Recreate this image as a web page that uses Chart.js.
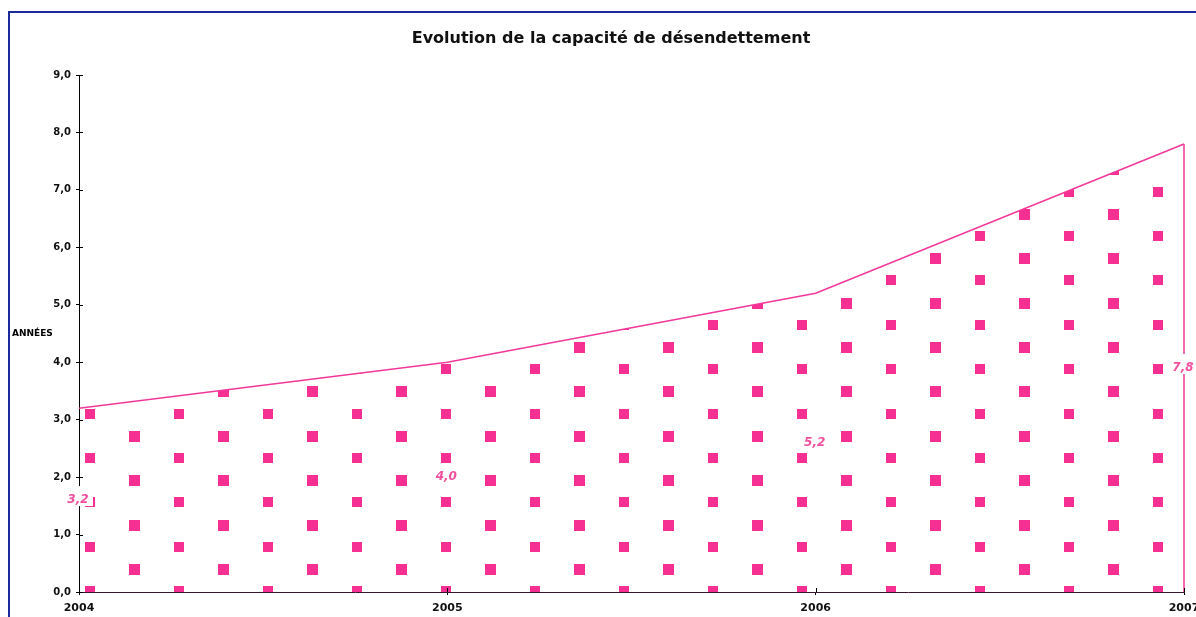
<!DOCTYPE html>
<html lang="fr">
<head>
<meta charset="utf-8">
<title>Evolution de la capacité de désendettement</title>
<script src="https://cdn.jsdelivr.net/npm/chart.js@4.4.1/dist/chart.umd.min.js"></script>
<style>
  html, body { margin: 0; padding: 0; background: #fff; overflow: hidden; width: 1196px; height: 617px; }
  #cadre { position: absolute; left: 8px; top: 11px; width: 1300px; height: 700px; border: 2px solid #1b2a9b; }
  #graphique { position: absolute; left: 0; top: 0; }
</style>
</head>
<body>
<div id="cadre"></div>
<canvas id="graphique" width="1220" height="640"></canvas>
<script>
// Données
const annees   = ['2004', '2005', '2006', '2007'];
const capacite = [3.2, 4.0, 5.2, 7.8];
const yMin = 0, yMax = 9, yPas = 1;
const titre = 'Evolution de la capacité de désendettement';

const ROSE_CARRE = '#F62F92';
const ROSE_LIGNE = '#F2389A';
const ROSE_TEXTE = '#F0509E';
const POLICE = '"DejaVu Sans", Verdana, sans-serif';

// ===================== MOTIF (carrés roses) =====================

function creerMotif(ctx) {
  const w = 89, h = 444;
  const c = document.createElement('canvas');
  c.width = w; c.height = h;
  const g = c.getContext('2d');
  g.fillStyle = ROSE_CARRE;
  const carre = (L, T, cw, ch) => {
    const lx = ((L % w) + w) % w, ty = ((T % h) + h) % h;
    for (const dx of [0, -w]) for (const dy of [0, -h]) g.fillRect(lx + dx, ty + dy, cw, ch);
  };
  for (let k = 0; k < 10; k++) {
    carre(85, 9 + Math.round(44.4 * k), 10, 10);
    carre(129, 9 + Math.round(22.2 + 44.4 * k), 11, 11);
  }
  return ctx.createPattern(c, 'repeat');
}

// ===================== PLUGINS =====================

// bord droit de la zone
const bordDroit = {
  id: 'bordDroit',
  afterDatasetsDraw(chart) {
    const { ctx, scales: { x, y } } = chart;
    const i = capacite.length - 1;
    const px = x.getPixelForValue(i);
    ctx.save();
    ctx.strokeStyle = ROSE_LIGNE;
    ctx.lineWidth = 1.5;
    ctx.beginPath();
    ctx.moveTo(px, y.getPixelForValue(capacite[i]));
    ctx.lineTo(px, y.getPixelForValue(0));
    ctx.stroke();
    ctx.restore();
  }
};

// graduations qui traversent les axes + étiquettes + titres
const finitions = {
  id: 'finitions',
  afterDraw(chart) {
    const { ctx, scales: { x, y } } = chart;
    ctx.save();
    ctx.strokeStyle = '#000';
    ctx.lineWidth = 1;
    ctx.beginPath();
    y.ticks.forEach((t, i) => {
      const py = Math.round(y.getPixelForTick(i)) + 0.5;
      ctx.moveTo(x.left, py); ctx.lineTo(x.left + 4, py);
    });
    x.ticks.forEach((t, i) => {
      const px = Math.round(x.getPixelForTick(i)) + 0.5;
      ctx.moveTo(px, y.bottom); ctx.lineTo(px, y.bottom - 4);
    });
    ctx.stroke();

    // étiquettes de valeurs (au milieu de la hauteur, comme Excel)
    ctx.font = 'italic bold 12px ' + POLICE;
    ctx.textAlign = 'center';
    ctx.textBaseline = 'middle';
    capacite.forEach((v, i) => {
      const px = x.getPixelForValue(i);
      const py = y.getPixelForValue(v / 2);
      ctx.fillStyle = '#fff';
      ctx.fillRect(px - 15, py - 14, 29, 20);
      ctx.fillStyle = ROSE_TEXTE;
      ctx.fillText(v.toFixed(1).replace('.', ','), px - 1, py);
    });

    // titre du graphique
    ctx.font = 'bold 16px ' + POLICE;
    ctx.fillStyle = '#111';
    ctx.fillText(titre, 611, 39);

    // titre de l'axe vertical
    ctx.font = 'bold 9px ' + POLICE;
    ctx.fillStyle = '#000';
    ctx.textAlign = 'left';
    ctx.fillText('ANNÉES', 12, 334);
    ctx.restore();
  }
};

// ===================== GRAPHIQUE =====================

const canvas = document.getElementById('graphique');
const ctx = canvas.getContext('2d');

new Chart(ctx, {
  type: 'line',
  data: {
    labels: annees,
    datasets: [{
      label: 'Capacité de désendettement',
      data: capacite,
      fill: 'origin',
      backgroundColor: creerMotif(ctx),
      borderColor: ROSE_LIGNE,
      borderWidth: 1.5,
      pointRadius: 0,
      tension: 0,
    }],
  },
  options: {
    responsive: false,
    animation: false,
    layout: { padding: { left: 0, right: 36, top: 75, bottom: 0 } },
    scales: {
      x: {
        z: 1,
        offset: false,
        grid: { drawOnChartArea: false, tickLength: 3, color: '#000' },
        border: { color: '#3a1530', width: 1 },
        ticks: { color: '#111', font: { family: POLICE, size: 11, weight: 'bold' }, padding: 7, maxRotation: 0, autoSkip: false },
        afterFit: s => { s.height = 48; },
      },
      y: {
        z: 1,
        min: yMin, max: yMax,
        grid: { drawOnChartArea: false, tickLength: 3, color: '#000' },
        border: { color: '#000', width: 1 },
        ticks: {
          stepSize: yPas,
          color: '#111',
          padding: 5,
          font: { family: POLICE, size: 10, weight: 'bold' },
          callback: v => v.toFixed(1).replace('.', ','),
        },
        afterFit: s => { s.width = 79; },
      },
    },
    plugins: {
      legend: { display: false },
      tooltip: { enabled: false },
      title: { display: false },
    },
  },
  plugins: [bordDroit, finitions],
});
</script>
</body>
</html>
